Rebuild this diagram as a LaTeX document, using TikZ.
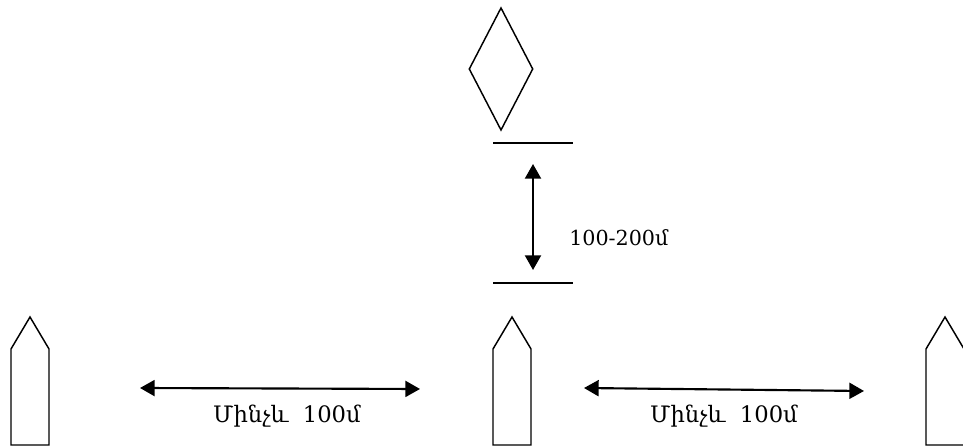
\documentclass[tikz,border=0pt]{standalone}
\usepackage{fontspec}
\setmainfont{DejaVu Serif}
\usetikzlibrary{arrows.meta}
\usetikzlibrary{shapes.geometric}
\usetikzlibrary{positioning}

\begin{document}
\begin{tikzpicture}[
	x=0.75pt, y=-0.75pt,
	font=\fontsize{16}{18}\selectfont
]
\tikzset{
    myshape/.style = {draw=black, line width=1.1pt},
    myflag/.style = {diamond, draw=black, line width=1.1pt, inner sep=0pt, minimum width=48pt, minimum height=92pt},
    myarrow/.style = {line width=1.6pt, {Triangle[length=11pt,width=12pt]}-{Triangle[length=11pt,width=12pt]}},
    mylabel/.style = {inner sep=0pt}
}
\useasboundingbox (0,0) rectangle (963,448);
% top marker and the two lines
\node[myflag] (flag) at (501,69) {};
\draw[myshape] (493,143) coordinate (t1) -- (573,143) coordinate (t2);
\draw[myshape] (493,283) coordinate (b1) -- (573,283) coordinate (b2);
\coordinate (vtop) at (533,164);
\coordinate (vbot) at (533,270);
\draw[myarrow] (vtop) -- (vbot);
\node[mylabel,anchor=west,font=\fontsize{15.5}{18}\selectfont] (gap) at (569,238) {100-200մ};
% the three posts
\foreach \name/\cx in {left/30, mid/512, right/945} {
    \draw[myshape] (\cx-19,445) -- (\cx-19,349) -- (\cx,317) -- (\cx+19,349) -- (\cx+19,445) -- cycle;
    \coordinate (\name) at (\cx,400);
}
% distances between posts
\coordinate (a1) at (140,388);
\coordinate (a2) at (420,389);
\coordinate (c1) at (584,388);
\coordinate (c2) at (864,391);
\draw[myarrow] (a1) -- (a2);
\draw[myarrow] (c1) -- (c2);
\node[mylabel,font=\fontsize{17}{18}\selectfont] (distA) at (287,416) {Մինչև~~100մ};
\node[mylabel,font=\fontsize{17}{18}\selectfont] (distB) at (724,416) {Մինչև~~100մ};
\end{tikzpicture}
\end{document}
